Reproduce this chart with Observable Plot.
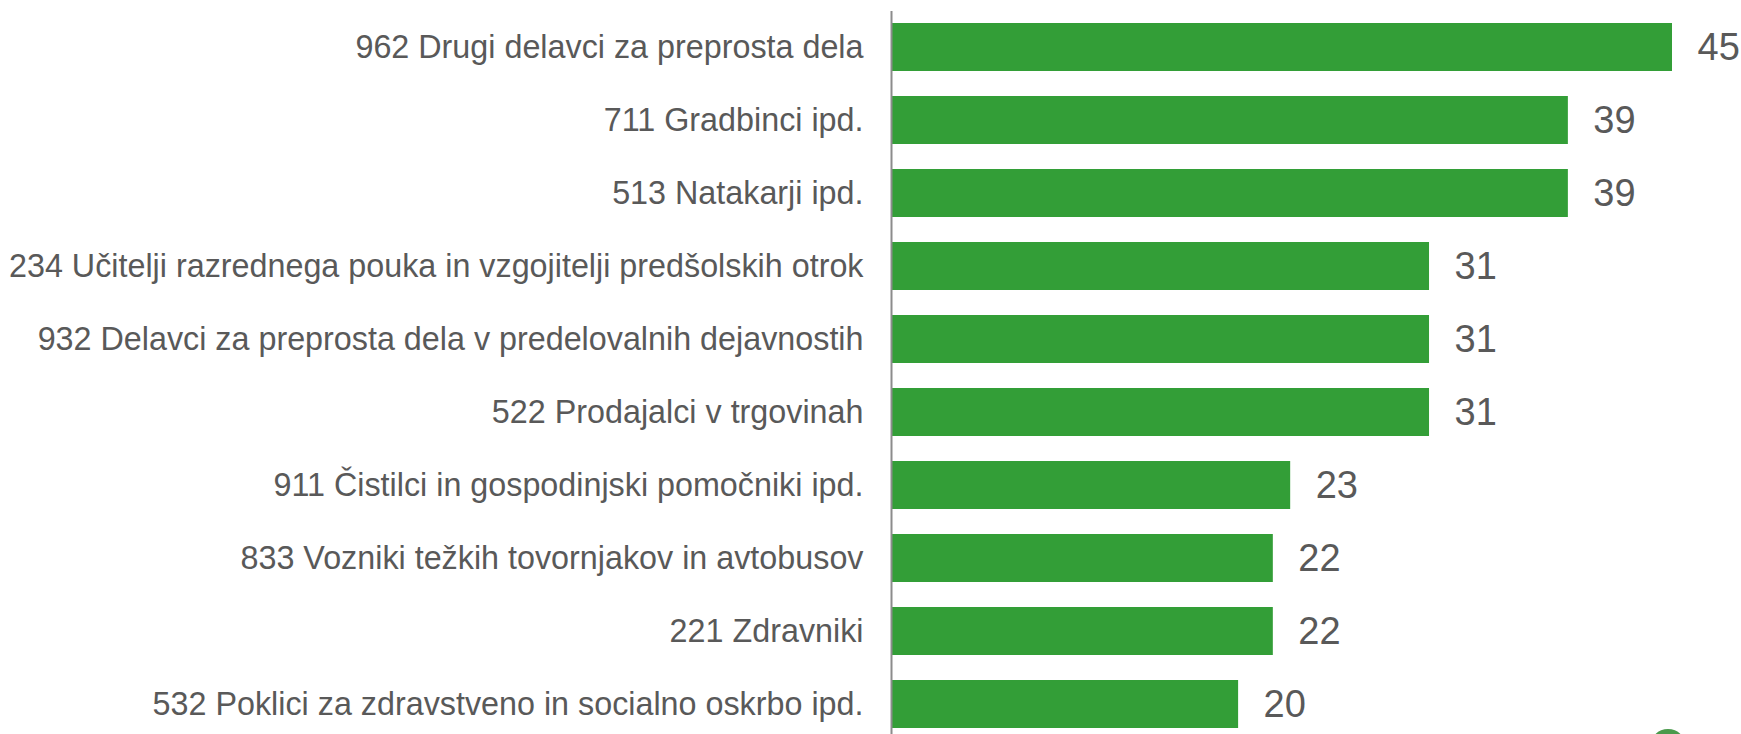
<!DOCTYPE html>
<html>
<head>
<meta charset="utf-8">
<script src="https://cdn.jsdelivr.net/npm/d3@7"></script>
<script src="https://cdn.jsdelivr.net/npm/@observablehq/plot@0.6"></script>
<style>
  html, body { margin: 0; padding: 0; background: #fff; overflow: hidden; }
  #wrap { position: relative; width: 1741px; height: 734px; overflow: hidden; }
  #logo { position: absolute; left: 1650px; top: 729px; width: 36px; height: 36px; border-radius: 50%; background: #4a9a4c; }
</style>
</head>
<body>
<div id="wrap"><div id="chart"></div><div id="logo"></div></div>
<script>
const categories = [
  "962 Drugi delavci za preprosta dela",
  "711 Gradbinci ipd.",
  "513 Natakarji ipd.",
  "234 Učitelji razrednega pouka in vzgojitelji predšolskih otrok",
  "932 Delavci za preprosta dela v predelovalnih dejavnostih",
  "522 Prodajalci v trgovinah",
  "911 Čistilci in gospodinjski pomočniki ipd.",
  "833 Vozniki težkih tovornjakov in avtobusov",
  "221 Zdravniki",
  "532 Poklici za zdravstveno in socialno oskrbo ipd."
];
const values = [45, 39, 39, 31, 31, 31, 23, 22, 22, 20];

const data = categories.map((c, i) => ({category: c, value: values[i]}));

const chart = Plot.plot({
  width: 1741,
  height: 734,
  marginTop: 11,
  marginBottom: 0,
  marginLeft: 0,
  marginRight: 0,
  style: {fontFamily: "'Liberation Sans', Arial, sans-serif", color: "#595959", background: "#fff"},
  x: {domain: [0, 45], range: [891, 1672], axis: null},
  y: {domain: categories, range: [10, 741], paddingInner: 0.34, paddingOuter: 0.17, label: null},
  marks: [
    Plot.barX(data, {x: "value", y: "category", fill: "#339e37"}),
    Plot.ruleX([0], {stroke: "#8c8c8c", strokeWidth: 2}),
    Plot.axisY({anchor: "left", tickSize: 0, tickPadding: 0, dx: 863, textAnchor: "end", fontSize: 32.3, label: null, fill: "#595959"}),
    Plot.text(data, {x: "value", y: "category", text: d => String(d.value), textAnchor: "start", dx: 25, fontSize: 38, fill: "#595959"})
  ]
});
document.getElementById("chart").appendChild(chart);
</script>
</body>
</html>
